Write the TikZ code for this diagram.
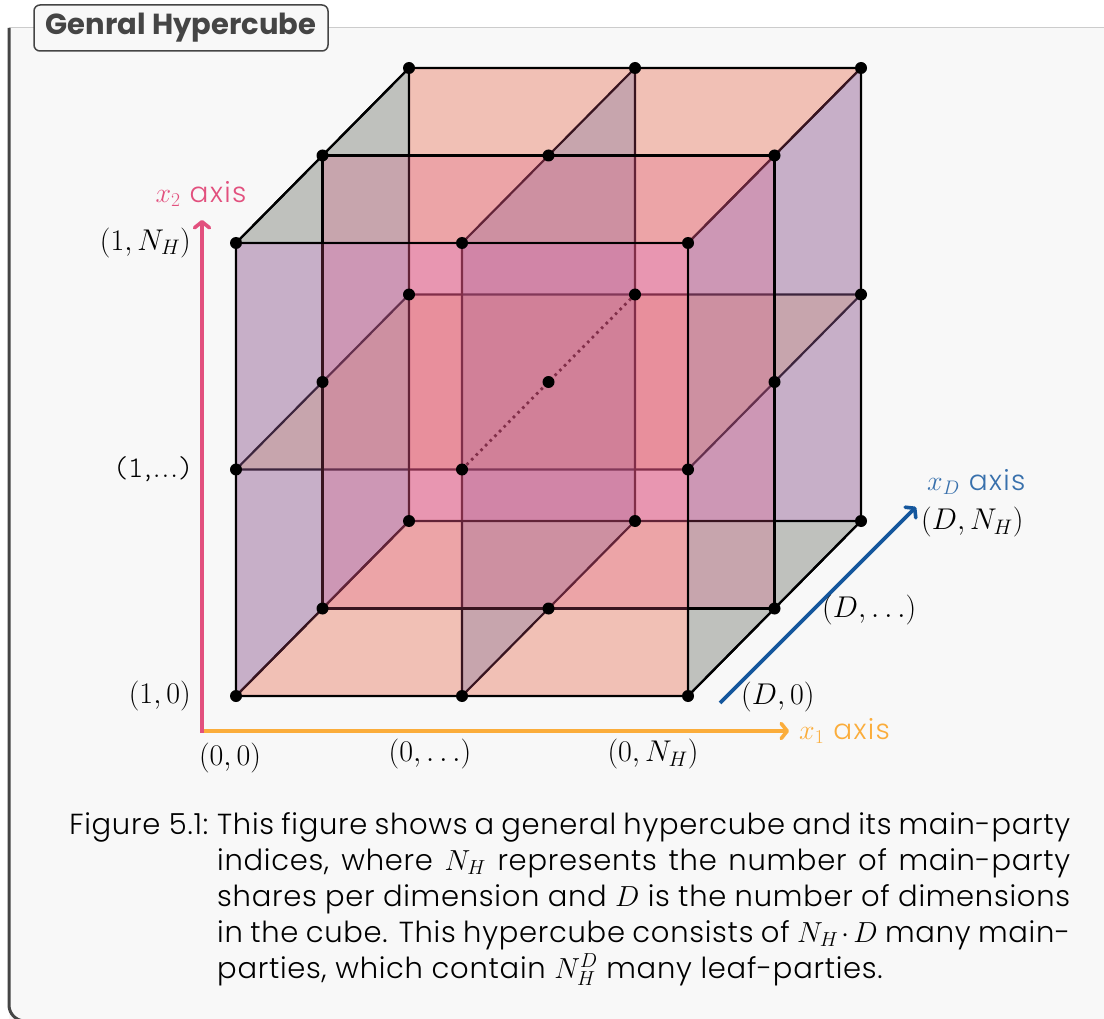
\RequirePackage{fix-cm}
\documentclass[tikz,border=0pt]{standalone}
\usepackage{fontspec}
\newfontfamily\popfont{Poppins}
\newfontfamily\poplight{Poppins Light}[LetterSpace=5]
\newfontfamily\capfont{Poppins Light}[LetterSpace=2.5]
\newfontfamily\ttprop{lmmonoproplt10-regular.otf}
\usetikzlibrary{arrows.meta}
\definecolor{pinkc}{HTML}{E0527F}
\definecolor{orangec}{HTML}{FBAD3B}
\definecolor{bluec}{HTML}{18589F}
\definecolor{bgc}{HTML}{F8F8F8}
\definecolor{framec}{HTML}{454545}
\definecolor{axpink}{HTML}{E2507E}
\definecolor{axorange}{HTML}{FBAD3B}
\definecolor{axblue}{HTML}{15579D}
\tikzset{
  plane/.style={draw=black, line width=2.2pt, line join=round, fill opacity=0.25},
  dotline/.style={draw=black, line width=2.8pt, dash pattern=on 2.6pt off 4pt},
  vdot/.style={circle, fill=black, inner sep=0pt, minimum size=12pt},
  axisline/.style={line width=3.6pt, -{Straight Barb[length=6pt,width=15pt,round]}},
  lbl/.style={inner sep=0pt, font=\fontsize{30}{34}\selectfont},
  axlbl/.style={inner sep=0pt, font=\poplight\fontsize{28}{32}\selectfont},
}
\begin{document}
\begin{tikzpicture}[x=1pt,y=-1pt]
\useasboundingbox (0,0) rectangle (1104,1019);
\fill[white] (0,0) rectangle (1104,1019);
% frame
\fill[bgc] (9,28) -- (1104,28) -- (1104,1019) -- (9,1019) -- cycle;
\draw[black!20, line width=1pt] (9,28) -- (1104,28);
\draw[framec, line width=3pt, rounded corners=16pt] (9,28) -- (9,1021) -- (60,1021);
\node[draw=framec, line width=1.5pt, rounded corners=6pt, fill=bgc, text=framec,
      font=\popfont\bfseries\fontsize{29}{32}\selectfont, minimum width=294pt, minimum height=46pt,
      inner sep=0pt] (title) at (181,28) {Genral Hypercube};
% grid points
\foreach \i in {0,1,2}{\foreach \j in {0,1,2}{\foreach \k in {0,1,2}{
  \coordinate (p\i\j\k) at ({236+226*\i+86.5*\k},{696-226.5*\j-87.5*\k});
}}}
% horizontal planes
\foreach \j in {0,1,2}
  \draw[plane, fill=orangec] (p0\j0) -- (p2\j0) -- (p2\j2) -- (p0\j2) -- cycle;
% left-right planes
\foreach \i in {0,1,2}
  \draw[plane, fill=bluec] (p\i00) -- (p\i20) -- (p\i22) -- (p\i02) -- cycle;
% diagonal through the centre
\draw[dotline] (p110) -- (p112);
% depth planes, back to front
\foreach \k in {2,1,0}
  \draw[plane, fill=pinkc] (p00\k) -- (p20\k) -- (p22\k) -- (p02\k) -- cycle;
% vertices
\foreach \i in {0,1,2}{\foreach \j in {0,1,2}{\foreach \k in {0,1,2}{
  \node[vdot] (v\i\j\k) at (p\i\j\k) {};
}}}
% axes
\coordinate (ax0) at (202,731);
\coordinate (ax2) at (202,220);
\coordinate (ax1) at (789,731);
\coordinate (xd0) at (720,703);
\coordinate (xd1) at (916,507);
\draw[axisline, axorange] ([xshift=-1.8pt]ax0) -- (ax1);
\draw[axisline, axpink] ([yshift=-1.8pt]ax0) -- (ax2);
\draw[axisline, axblue] (xd0) -- (xd1);
% axis labels
\node[axlbl, text=axpink] (l2) at (201,194) {$x_2$ axis};
\node[axlbl, text=axorange, anchor=west] (l1) at (799,731) {$x_1$ axis};
\node[axlbl, text=axblue!85!white, anchor=west] (lD) at (927,482) {$x_D$ axis};
% index labels
\node[lbl, anchor=east] (a) at (191,243) {$(1,N_H)$};
\node[lbl, anchor=east] (b) at (191,469) {\ttprop(1,...)};
\node[lbl, anchor=east] (c) at (191,696) {$(1,0)$};
\node[lbl] (d) at (230,758) {$(0,0)$};
\node[lbl] (e) at (430,754) {$(0,\dots)$};
\node[lbl] (f) at (653,754) {$(0,N_H)$};
\node[lbl, anchor=west] (g) at (741,697) {$(D,0)$};
\node[lbl, anchor=west] (h) at (822,610) {$(D,\dots)$};
\node[lbl, anchor=west] (k) at (921,522) {$(D,N_H)$};
% caption
\node[anchor=north west, inner sep=0pt, text width=853pt, align=justify,
      font=\capfont\fontsize{29}{36}\selectfont] (cap) at (217,812)
{\tolerance=10000\llap{Figure 5.1:\hspace{9pt}}This figure shows a general hypercube and its main-party\linebreak
indices, where $N_H$ represents the number of main-party\linebreak
shares per dimension and $D$ is the number of dimensions\linebreak
in the cube. This hypercube consists of $N_H\cdot D$ many main-\linebreak
parties, which contain $N_H^D$ many leaf-parties.};
\end{tikzpicture}
\end{document}
